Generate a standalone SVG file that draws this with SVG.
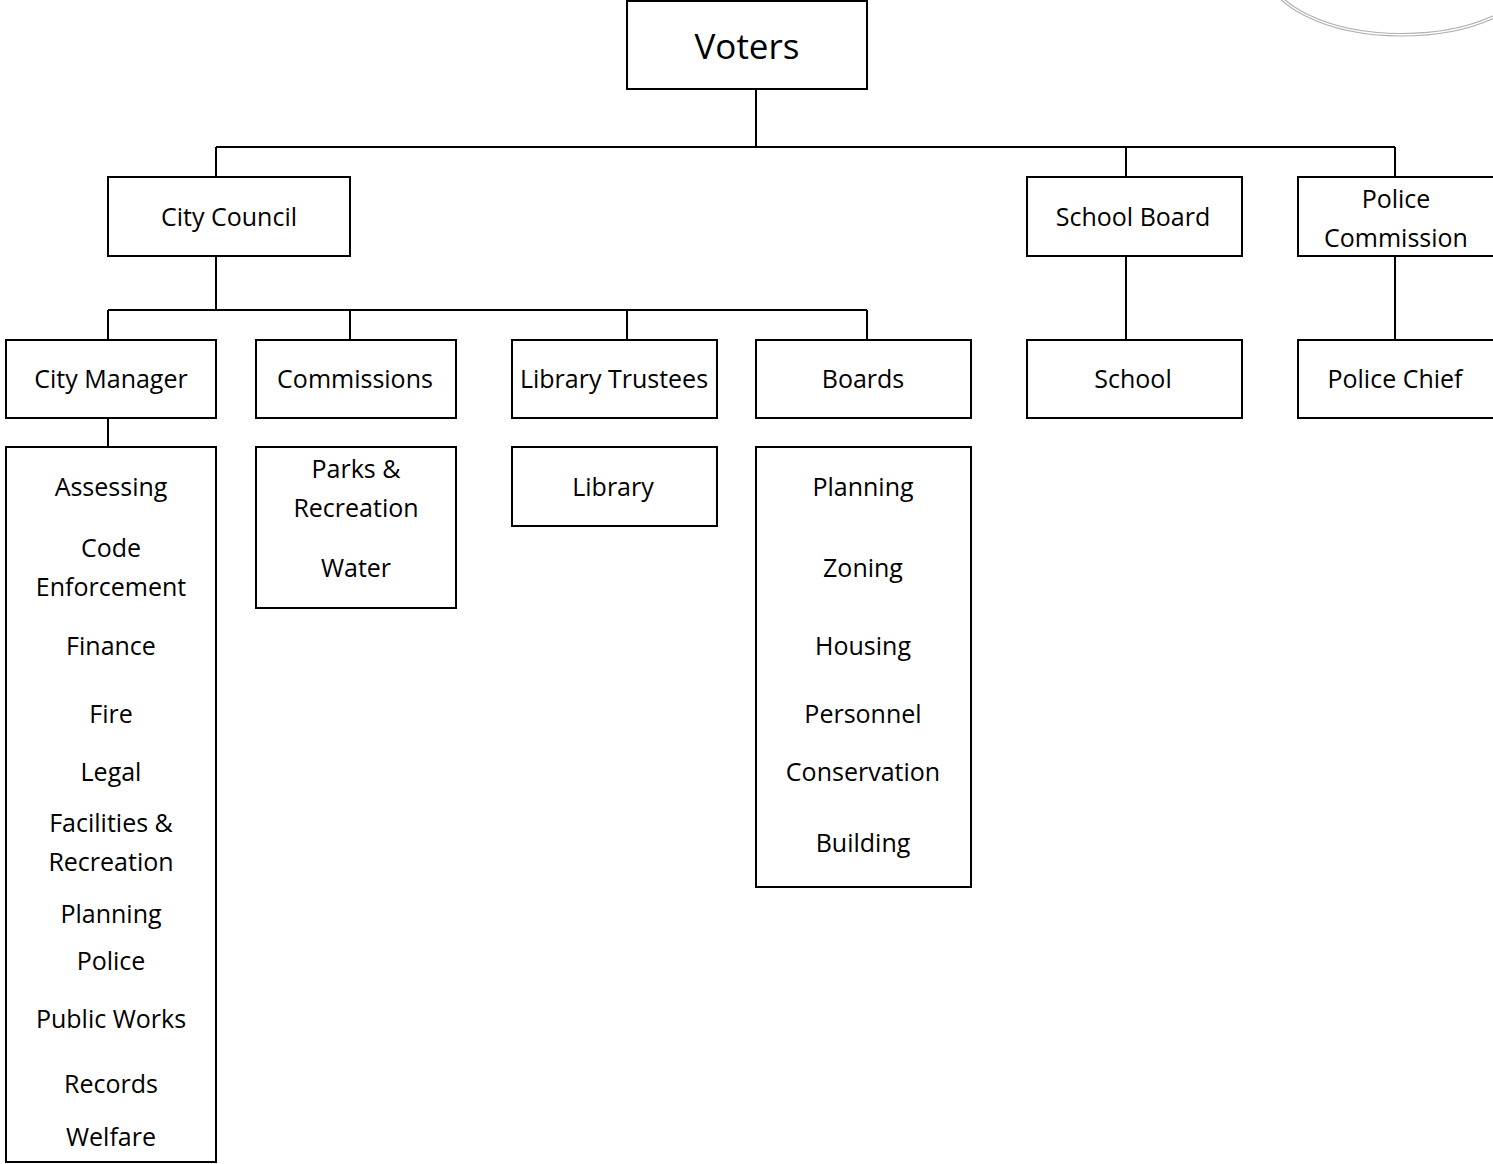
<svg xmlns="http://www.w3.org/2000/svg" width="1493" height="1164" viewBox="0 0 1493 1164">
<style>
.box{fill:#fff;stroke:#000;stroke-width:2}
.t{font-family:"Open Sans","Noto Sans",sans-serif;font-size:25px;fill:#000;text-anchor:middle}
.big{font-size:35px}
.c{fill:none;stroke:#000;stroke-width:2}
</style>
<rect width="1493" height="1164" fill="#fff"/>
<g id="decor" fill="none" stroke="#b0b0b0" stroke-width="1.2">
<ellipse cx="1402" cy="-34" rx="138" ry="70"/>
<ellipse cx="1402" cy="-35" rx="136" ry="68.5"/>
</g>
<g id="connectors" class="c">
<path d="M756 89V147M216 147H1395M216 147V177M1126 147V177M1395 147V177"/>
<path d="M216 256V310M108 310H867M108 310V340M350 310V340M627 310V340M867 310V340"/>
<path d="M1126 256V340M1395 256V340M108 418V447"/>
</g>
<g id="voters"><rect class="box" x="627" y="1" width="240" height="88"/><text class="t big" x="747" y="59">Voters</text></g>
<g id="city-council"><rect class="box" x="108" y="177" width="242" height="79"/><text class="t" x="229" y="226">City Council</text></g>
<g id="school-board"><rect class="box" x="1027" y="177" width="215" height="79"/><text class="t" x="1133" y="226">School Board</text></g>
<g id="police-commission"><rect class="box" x="1298" y="177" width="200" height="79"/><text class="t" x="1396" y="208">Police</text><text class="t" x="1396" y="247">Commission</text></g>
<g id="city-manager"><rect class="box" x="6" y="340" width="210" height="78"/><text class="t" x="111" y="388">City Manager</text></g>
<g id="commissions"><rect class="box" x="256" y="340" width="200" height="78"/><text class="t" x="355" y="388">Commissions</text></g>
<g id="library-trustees"><rect class="box" x="512" y="340" width="205" height="78"/><text class="t" x="614" y="388">Library Trustees</text></g>
<g id="boards"><rect class="box" x="756" y="340" width="215" height="78"/><text class="t" x="863" y="388">Boards</text></g>
<g id="school"><rect class="box" x="1027" y="340" width="215" height="78"/><text class="t" x="1133" y="388">School</text></g>
<g id="police-chief"><rect class="box" x="1298" y="340" width="200" height="78"/><text class="t" x="1395" y="388">Police Chief</text></g>
<g id="manager-depts"><rect class="box" x="6" y="447" width="210" height="715"/>
<text class="t" x="111" y="496">Assessing</text>
<text class="t" x="111" y="557">Code</text>
<text class="t" x="111" y="596">Enforcement</text>
<text class="t" x="111" y="655">Finance</text>
<text class="t" x="111" y="723">Fire</text>
<text class="t" x="111" y="781">Legal</text>
<text class="t" x="111" y="832">Facilities &amp;</text>
<text class="t" x="111" y="871">Recreation</text>
<text class="t" x="111" y="923">Planning</text>
<text class="t" x="111" y="970">Police</text>
<text class="t" x="111" y="1028">Public Works</text>
<text class="t" x="111" y="1093">Records</text>
<text class="t" x="111" y="1146">Welfare</text>
</g>
<g id="commission-list"><rect class="box" x="256" y="447" width="200" height="161"/>
<text class="t" x="356" y="478">Parks &amp;</text>
<text class="t" x="356" y="517">Recreation</text>
<text class="t" x="356" y="577">Water</text>
</g>
<g id="library"><rect class="box" x="512" y="447" width="205" height="79"/><text class="t" x="613" y="496">Library</text></g>
<g id="board-list"><rect class="box" x="756" y="447" width="215" height="440"/>
<text class="t" x="863" y="496">Planning</text>
<text class="t" x="863" y="577">Zoning</text>
<text class="t" x="863" y="655">Housing</text>
<text class="t" x="863" y="723">Personnel</text>
<text class="t" x="863" y="781">Conservation</text>
<text class="t" x="863" y="852">Building</text>
</g>
</svg>
